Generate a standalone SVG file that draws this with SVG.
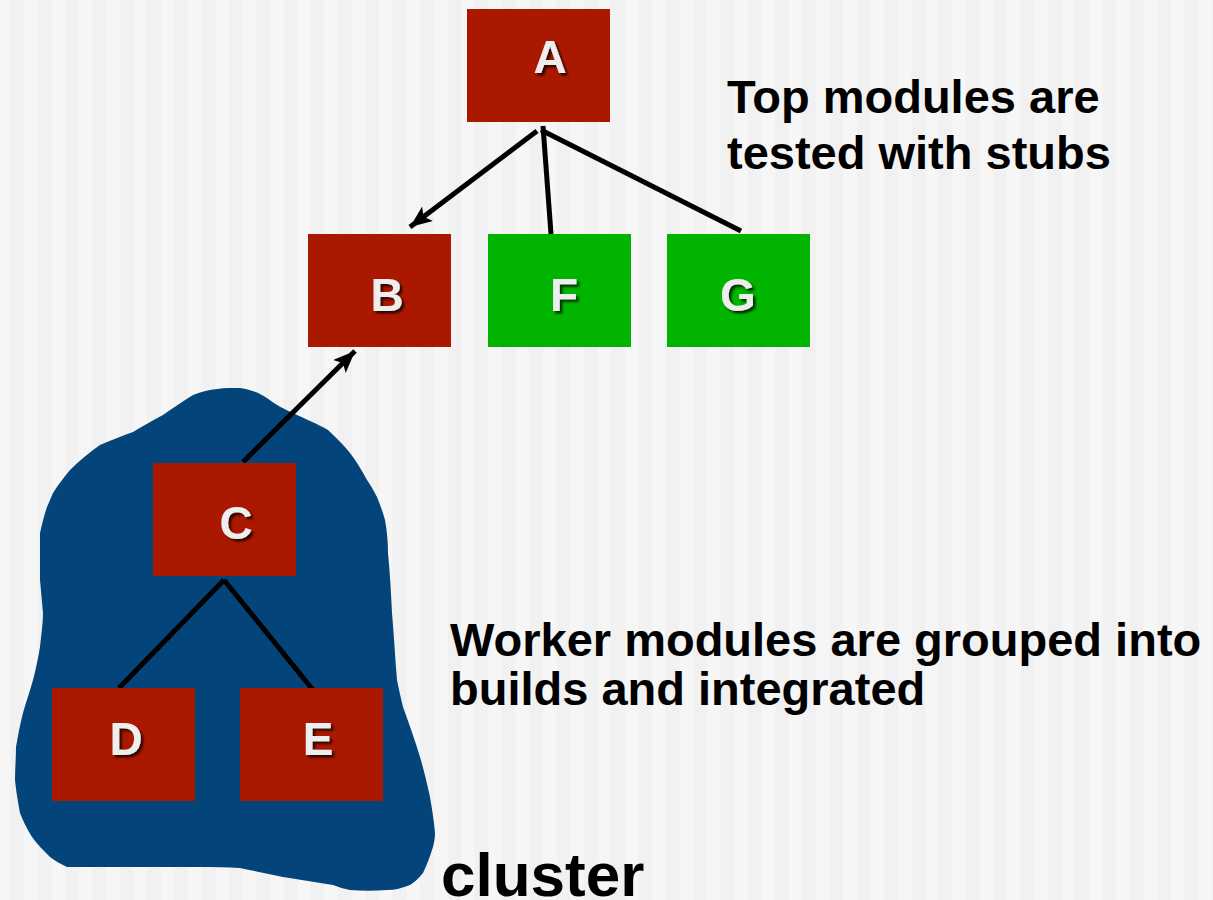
<svg xmlns="http://www.w3.org/2000/svg" width="1213" height="900" viewBox="0 0 1213 900">
<defs>
<pattern id="stripes" patternUnits="userSpaceOnUse" x="-3" y="0" width="27.3" height="10">
<rect x="0" y="0" width="27.3" height="10" fill="#f1f1f1"/>
<rect x="0" y="0" width="13.6" height="10" fill="#f6f6f6"/>
</pattern>
<filter id="shadow" x="-30%" y="-30%" width="160%" height="160%">
<feDropShadow dx="2.5" dy="2.5" stdDeviation="1" flood-color="#000" flood-opacity="0.75"/>
</filter>
<marker id="arrow" markerUnits="userSpaceOnUse" markerWidth="26" markerHeight="22" refX="22" refY="9" orient="auto">
<path d="M0,0 L22,9 L0,18 L5,9 Z" fill="#000"/>
</marker>
</defs>
<style>
.red{fill:#ab1800}
.green{fill:#00b400}
.lbl{font-family:"Liberation Sans",Arial,sans-serif;font-weight:bold;font-size:46px;fill:#eeeeee;text-anchor:middle;filter:url(#shadow)}
.txt{font-family:"Liberation Sans",Arial,sans-serif;font-weight:bold;font-size:47px;fill:#000}
.edge{stroke:#000;stroke-width:5;fill:none}
</style>
<rect x="0" y="0" width="1213" height="900" fill="url(#stripes)"/>
<g id="cluster-blob">
<path fill="#03447a" d="M193,395 C210,388 225,388 240,388 C252,390 260,393 267,398 C276,405 284,409 293,413 C305,419 318,424 328,430 C336,438 344,445 350,453 C357,462 362,471 367,480 C371,486 374,491 377,497 C380,505 383,512 385,520 C387,531 388,542 388,553 C390,573 391,593 392,613 C394,635 395,658 397,680 C399,690 401,699 403,707 C409,724 415,740 420,757 C424,770 427,784 430,797 C432,809 434,821 435,833 C435,838 434,843 433,847 C430,856 427,865 423,873 C419,878 415,882 410,885 C402,888 395,890 387,890 C375,891 362,891 350,890 C344,889 339,887 333,885 C316,882 300,880 283,877 C269,874 254,871 240,868 C227,867 213,867 200,867 C156,867 111,867 67,867 C61,864 55,861 50,857 C44,851 37,844 32,837 C27,829 23,821 20,813 C18,802 16,791 15,780 C15,769 16,758 16,747 C18,736 20,724 23,713 C26,702 30,691 33,680 C36,669 38,658 40,647 C41,636 43,624 43,613 C42,602 41,591 40,580 C40,564 40,549 40,533 C42,524 44,516 47,507 C49,502 51,498 53,493 C58,485 64,477 70,470 C79,461 90,452 100,445 C111,440 122,436 133,432 C143,426 153,420 163,415 C173,408 183,401 193,395 Z"/>
</g>
<g id="connectors">
<line class="edge" x1="537" y1="131" x2="410" y2="227" marker-end="url(#arrow)"/>
<line class="edge" x1="543" y1="126" x2="551" y2="234"/>
<line class="edge" x1="541" y1="130" x2="741" y2="231"/>
<line class="edge" x1="243" y1="462" x2="355" y2="351" marker-end="url(#arrow)"/>
<line class="edge" x1="224" y1="580" x2="119" y2="688"/>
<line class="edge" x1="224" y1="580" x2="313" y2="690"/>
</g>
<g id="node-A"><rect class="red" x="467" y="9" width="143" height="113"/><text class="lbl" x="550" y="73">A</text></g>
<g id="node-B"><rect class="red" x="308" y="234" width="143" height="113"/><text class="lbl" x="387" y="311">B</text></g>
<g id="node-F"><rect class="green" x="488" y="234" width="143" height="113"/><text class="lbl" x="564" y="311">F</text></g>
<g id="node-G"><rect class="green" x="667" y="234" width="143" height="113"/><text class="lbl" x="738" y="311">G</text></g>
<g id="node-C"><rect class="red" x="153" y="463" width="143" height="113"/><text class="lbl" x="236" y="539">C</text></g>
<g id="node-D"><rect class="red" x="52" y="688" width="143" height="113"/><text class="lbl" x="126" y="755">D</text></g>
<g id="node-E"><rect class="red" x="240" y="688" width="143" height="113"/><text class="lbl" x="318" y="755">E</text></g>
<g id="labels">
<text class="txt" x="727" y="113">Top modules are</text>
<text class="txt" x="727" y="169">tested with stubs</text>
<text class="txt" x="450" y="656">Worker modules are grouped into</text>
<text class="txt" x="450" y="705">builds and integrated</text>
<text class="txt" x="441" y="896" style="font-size:62px">cluster</text>
</g>
</svg>
